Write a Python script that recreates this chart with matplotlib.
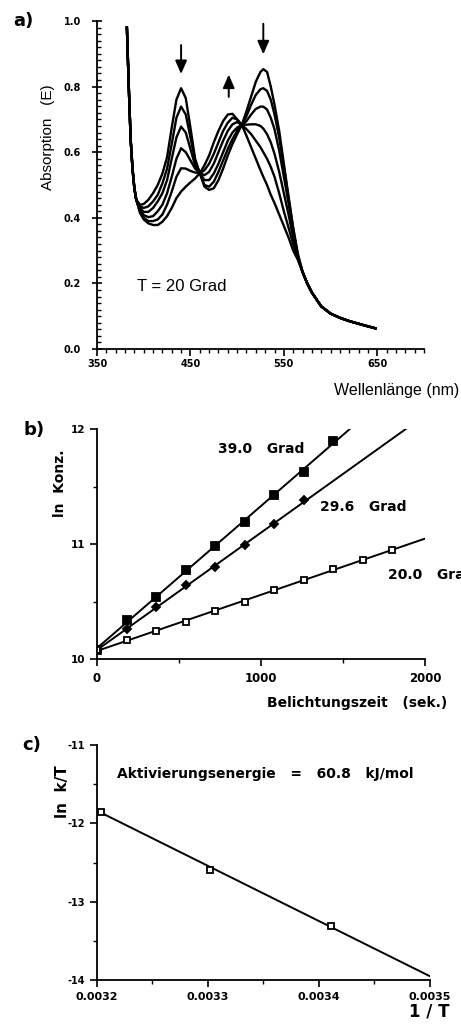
import numpy as np
import matplotlib
matplotlib.use("Agg")
import matplotlib.pyplot as plt
from matplotlib.ticker import MultipleLocator, FormatStrFormatter

plt.rcParams["axes.unicode_minus"] = False
plt.rcParams["font.family"] = ["DejaVu Sans"]

# ---- panel a: absorption spectra (6 spectra, T = 20 Grad)
wl_head = [382, 384, 386, 388, 390, 392]
abs_head = [0.98, 0.80, 0.64, 0.55, 0.49, 0.455]

wl_mid = [396, 400, 405, 410, 415, 420, 425, 430, 435,
          440, 445, 450, 455, 460, 465, 470, 475,
          480, 485, 490, 495, 500, 505, 510, 515,
          520, 525, 528, 532, 536, 540, 545, 550, 555, 560, 565]
spec_1 = [0.44, 0.442, 0.455, 0.475, 0.50, 0.535, 0.585, 0.675, 0.76,
          0.795, 0.765, 0.675, 0.58, 0.536, 0.495, 0.485, 0.49,
          0.515, 0.55, 0.59, 0.625, 0.655, 0.683, 0.725, 0.77,
          0.815, 0.845, 0.853, 0.845, 0.80, 0.745, 0.665, 0.565, 0.465, 0.37, 0.29]
spec_2 = [0.435, 0.43, 0.435, 0.45, 0.47, 0.505, 0.55, 0.625, 0.705,
          0.739, 0.715, 0.645, 0.575, 0.536, 0.50, 0.495, 0.51,
          0.54, 0.575, 0.61, 0.64, 0.665, 0.683, 0.71, 0.745,
          0.775, 0.792, 0.795, 0.787, 0.76, 0.715, 0.645, 0.555, 0.46, 0.365, 0.285]
spec_3 = [0.43, 0.418, 0.418, 0.43, 0.45, 0.475, 0.515, 0.58, 0.645,
          0.678, 0.66, 0.61, 0.56, 0.536, 0.515, 0.515, 0.535,
          0.565, 0.60, 0.635, 0.66, 0.675, 0.683, 0.695, 0.715,
          0.732, 0.739, 0.739, 0.73, 0.705, 0.67, 0.605, 0.525, 0.445, 0.355, 0.28]
spec_4 = [0.425, 0.408, 0.402, 0.405, 0.42, 0.44, 0.475, 0.525, 0.58,
          0.612, 0.60, 0.575, 0.55, 0.536, 0.53, 0.54, 0.565,
          0.60, 0.635, 0.665, 0.685, 0.692, 0.683, 0.684, 0.685,
          0.685, 0.68, 0.672, 0.655, 0.63, 0.595, 0.54, 0.475, 0.41, 0.34, 0.28]
spec_5 = [0.42, 0.40, 0.39, 0.39, 0.395, 0.41, 0.44, 0.48, 0.525,
          0.551, 0.55, 0.543, 0.538, 0.536, 0.545, 0.565, 0.595,
          0.63, 0.665, 0.69, 0.705, 0.70, 0.683, 0.67, 0.655,
          0.635, 0.615, 0.60, 0.58, 0.555, 0.525, 0.475, 0.42, 0.37, 0.32, 0.275]
spec_6 = [0.415, 0.395, 0.383, 0.378, 0.378, 0.388, 0.405, 0.43, 0.46,
          0.48, 0.495, 0.508, 0.52, 0.536, 0.56, 0.59, 0.63,
          0.665, 0.695, 0.715, 0.717, 0.70, 0.683, 0.65, 0.615,
          0.58, 0.545, 0.525, 0.50, 0.47, 0.445, 0.41, 0.375, 0.34, 0.30, 0.272]

wl_tail = [570, 575, 580, 590, 600, 610, 620, 635, 648]
abs_tail = [0.235, 0.20, 0.172, 0.13, 0.108, 0.095, 0.085, 0.073, 0.063]

# ---- panel b: ln Konz. vs Belichtungszeit
t_39 = [0, 180, 360, 540, 720, 900, 1080, 1260, 1440]
lnc_39 = [10.08, 10.34, 10.54, 10.77, 10.98, 11.19, 11.43, 11.63, 11.90]
t_29 = [0, 180, 360, 540, 720, 900, 1080, 1260]
lnc_29 = [10.08, 10.26, 10.45, 10.64, 10.80, 10.99, 11.17, 11.38]
t_20 = [0, 180, 360, 540, 720, 900, 1080, 1260, 1440, 1620, 1800]
lnc_20 = [10.08, 10.165, 10.24, 10.32, 10.42, 10.50, 10.60, 10.69, 10.78, 10.86, 10.95]

# ---- panel c: ln k/T vs 1/T
inv_T = [0.003204, 0.003302, 0.003411]
ln_kT = [-11.85, -12.59, -13.31]

W, H = 461, 1024
fig = plt.figure(figsize=(W / 100, H / 100), dpi=100)


def box(l, t, r, b):
    # pixel box (left, top, right, bottom) -> figure fractions
    return [l / W, 1 - b / H, (r - l) / W, (b - t) / H]


def style_axes(ax):
    ax.spines["top"].set_visible(False)
    ax.spines["right"].set_visible(False)
    for side in ("left", "bottom"):
        ax.spines[side].set_linewidth(1.3)


bold = dict(fontweight="bold", family="DejaVu Sans")
helv = dict(family="Liberation Sans")

# ================= a)
ax = fig.add_axes(box(97, 21, 424, 349))
for sp in [spec_1, spec_2, spec_3, spec_4, spec_5, spec_6]:
    ax.plot(wl_head + wl_mid + wl_tail, abs_head + sp + abs_tail,
            color="black", lw=1.7, solid_joinstyle="round")
ax.set_xlim(350, 700)
ax.set_ylim(0, 1.0)
style_axes(ax)
ax.set_xticks([350, 450, 550, 650])
ax.xaxis.set_minor_locator(MultipleLocator(10))
ax.set_yticks([0.0, 0.2, 0.4, 0.6, 0.8, 1.0])
ax.yaxis.set_major_formatter(FormatStrFormatter("%.1f"))
ax.yaxis.set_minor_locator(MultipleLocator(0.02))
ax.tick_params(axis="x", which="major", direction="out", length=5, width=1.2, pad=2)
ax.tick_params(axis="x", which="minor", direction="out", length=3, width=1.0)
ax.tick_params(axis="y", which="major", direction="inout", length=7, width=1.2, pad=8)
ax.tick_params(axis="y", which="minor", direction="in", length=3, width=1.0)
for lab in ax.get_xticklabels() + ax.get_yticklabels():
    lab.set_fontsize(7)
    lab.set_fontweight("bold")

arrow = dict(arrowstyle="-|>,head_length=0.8,head_width=0.35", color="black", lw=1.4)
ax.annotate("", xy=(440, 0.83), xytext=(440, 0.935), arrowprops=arrow)
ax.annotate("", xy=(491, 0.845), xytext=(491, 0.76), arrowprops=arrow)
ax.annotate("", xy=(528, 0.89), xytext=(528, 1.0), arrowprops=arrow, annotation_clip=False)
ax.text(393, 0.19, "T = 20 Grad", fontsize=12, va="center", **helv)

fig.text(48 / W, 1 - 137 / H, "Absorption   (E)", rotation=90, fontsize=11,
         ha="center", va="center", **helv)
fig.text(459 / W, 1 - 390 / H, "Wellenlänge (nm)", fontsize=11.5,
         ha="right", va="center", **helv)
fig.text(13 / W, 1 - 21 / H, "a)", fontsize=13, ha="left", va="center", **bold)

# ================= b)
ax = fig.add_axes(box(97, 429, 425, 659))
tt = np.array([0, 2000])
for t, c, mk, fill, ms in [(t_39, lnc_39, "s", "black", 5.5),
                           (t_29, lnc_29, "D", "black", 4.0),
                           (t_20, lnc_20, "s", "white", 5.0)]:
    k, d = np.polyfit(t, c, 1)
    ax.plot(tt, k * tt + d, color="black", lw=1.4)
    ax.plot(t, c, ls="none", marker=mk, ms=ms, mfc=fill, mec="black", mew=1.3)
ax.set_xlim(0, 2000)
ax.set_ylim(10, 12)
style_axes(ax)
ax.set_xticks([0, 1000, 2000])
ax.xaxis.set_minor_locator(MultipleLocator(500))
ax.set_yticks([10, 11, 12])
ax.yaxis.set_minor_locator(MultipleLocator(0.5))
ax.tick_params(which="major", direction="out", length=5, width=1.2)
ax.tick_params(which="minor", direction="out", length=3, width=1.0)
ax.tick_params(axis="x", pad=4)
for lab in ax.get_xticklabels():
    lab.set_fontsize(8.5)
    lab.set_fontweight("bold")
for lab in ax.get_yticklabels():
    lab.set_fontsize(7.5)
    lab.set_fontweight("bold")
ax.text(738, 11.83, "39.0   Grad", fontsize=10, va="center", **bold)
ax.text(1360, 11.32, "29.6   Grad", fontsize=10, va="center", **bold)
# runs off the right edge, as in the original figure
ax.text(1774, 10.73, "20.0   Grad", fontsize=10, va="center", clip_on=False, **bold)

fig.text(60 / W, 1 - 483 / H, "ln  Konz.", rotation=90, fontsize=10,
         ha="center", va="center", **bold)
fig.text(447 / W, 1 - 703 / H, "Belichtungszeit   (sek.)", fontsize=10,
         ha="right", va="center", **bold)
fig.text(23 / W, 1 - 430 / H, "b)", fontsize=13, ha="left", va="center", **bold)

# ================= c)
ax = fig.add_axes(box(97, 745, 430, 980))
xx = np.array([0.0032, 0.0035])
k, d = np.polyfit(inv_T, ln_kT, 1)
ax.plot(xx, k * xx + d, color="black", lw=1.4)
ax.plot(inv_T, ln_kT, ls="none", marker="s", ms=5, mfc="white", mec="black", mew=1.3)
ax.set_xlim(0.0032, 0.0035)
ax.set_ylim(-14, -11)
style_axes(ax)
ax.set_xticks([0.0032, 0.0033, 0.0034, 0.0035])
ax.xaxis.set_major_formatter(FormatStrFormatter("%.4f"))
ax.xaxis.set_minor_locator(MultipleLocator(0.00005))
ax.set_yticks([-14, -13, -12, -11])
ax.yaxis.set_minor_locator(MultipleLocator(0.5))
ax.tick_params(which="major", direction="out", length=5, width=1.2)
ax.tick_params(which="minor", direction="out", length=3, width=1.0)
for lab in ax.get_xticklabels():
    lab.set_fontsize(8)
    lab.set_fontweight("bold")
for lab in ax.get_yticklabels():
    lab.set_fontsize(7)
    lab.set_fontweight("bold")
ax.text(0.003218, -11.37, "Aktivierungsenergie   =   60.8   kJ/mol", fontsize=10,
        va="center", **bold)

fig.text(62 / W, 1 - 792 / H, "ln  k/T", rotation=90, fontsize=11,
         ha="center", va="center", **bold)
fig.text(449 / W, 1 - 1012 / H, "1 / T", fontsize=12,
         ha="right", va="center", **bold)
fig.text(22 / W, 1 - 745 / H, "c)", fontsize=13, ha="left", va="center", **bold)

fig.savefig("out.png", dpi=100, facecolor="white")
